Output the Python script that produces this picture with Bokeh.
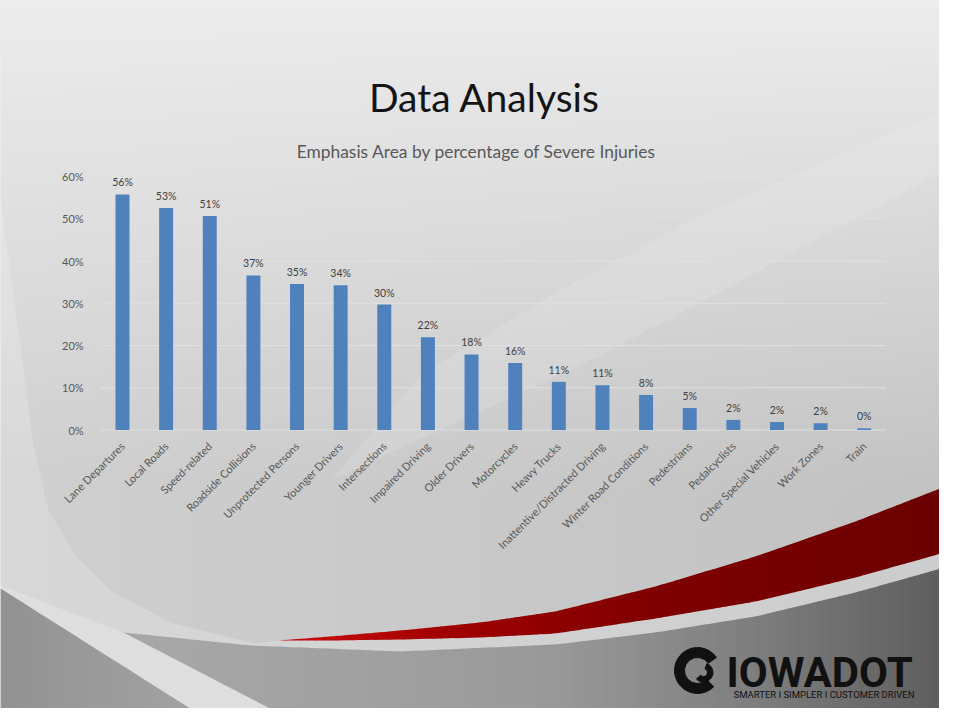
import numpy as np
from math import pi
from bokeh.plotting import figure
from bokeh.models import Range1d, LinearAxis, FixedTicker
from bokeh.core.properties import value
from bokeh.embed import file_html
from bokeh.resources import INLINE

# ---------------- data ----------------
categories = ["Lane Departures", "Local Roads", "Speed-related", "Roadside Collisions",
              "Unprotected Persons", "Younger Drivers", "Intersections", "Impaired Driving",
              "Older Drivers", "Motorcycles", "Heavy Trucks", "Inattentive/Distracted Driving",
              "Winter Road Conditions", "Pedestrians", "Pedalcyclists", "Other Special Vehicles",
              "Work Zones", "Train"]
severe_pct = [55.8, 52.6, 50.7, 36.6, 34.6, 34.3, 29.7, 22.0, 17.9, 15.9,
              11.4, 10.6, 8.3, 5.2, 2.4, 1.9, 1.6, 0.4]
pct_labels = ["56%", "53%", "51%", "37%", "35%", "34%", "30%", "22%", "18%", "16%",
              "11%", "11%", "8%", "5%", "2%", "2%", "2%", "0%"]
y_ticks = [0, 10, 20, 30, 40, 50, 60]
y_tick_labels = ["0%", "10%", "20%", "30%", "40%", "50%", "60%"]

title_text = "Data Analysis"
subtitle_text = "Emphasis Area by percentage of Severe Injuries"
logo_text = "IOWADOT"
tagline_text = "SMARTER I SIMPLER I CUSTOMER DRIVEN"

FONT = "Lato"
W, H = 939, 708

p = figure(width=W, height=H,
           x_range=Range1d(-2.796, 18.725), y_range=Range1d(-65.96, 101.73),
           x_axis_type=None, y_axis_type=None,
           toolbar_location=None, output_backend="svg", min_border=0,
           outline_line_color=None, background_fill_color="#dedede",
           border_fill_color="#dedede")
p.extra_x_ranges = {"px": Range1d(0, W), "u": Range1d(0, 1)}
p.extra_y_ranges = {"px": Range1d(H, 0), "u": Range1d(0, 1)}

# ---------------- background ----------------
nx, ny = 313, 236
xc = (np.arange(nx) + 0.5) * W / nx
yc = H - (np.arange(ny) + 0.5) * H / ny
X, Y = np.meshgrid(xc, yc)
v = 236 - 0.06 * (np.minimum(Y, 480) - 8) - 0.014 * X * np.minimum(Y, 500) / 500
v = np.clip(v, 0, 255).astype(np.uint8)
img = np.empty((ny, nx), dtype=np.uint32)
view = img.view(dtype=np.uint8).reshape((ny, nx, 4))
view[..., 0] = v
view[..., 1] = v
view[..., 2] = v
view[..., 3] = 255
p.image_rgba(image=[img], x=0, y=0, dw=1, dh=1, x_range_name="u", y_range_name="u")

PX = dict(x_range_name="px", y_range_name="px")

# soft light sweep through the chart (tapered)
sweep_lo = [(330, 480), (450, 425), (600, 355), (750, 275), (880, 205), (940, 172)]
sweep_hi = [(940, 112), (850, 150), (700, 215), (550, 295), (420, 375)]
sw = sweep_lo + sweep_hi
p.patch([q[0] for q in sw], [q[1] for q in sw], fill_color="white", fill_alpha=0.12,
        line_color=None, **PX)

red_top_x = [278, 330, 400, 480, 555, 655, 755, 855, 955]
red_top_y = [640, 636, 630, 622, 611, 586, 556, 521, 482]
red_bot_x = [278, 330, 400, 480, 555, 655, 755, 855, 955]
red_bot_y = [640, 640, 639, 637, 633, 618, 601, 577, 549]

# light swoosh on the left / under the red band
arc = [(0, 200), (18, 330), (32, 440), (48, 510), (75, 555), (110, 590), (170, 622), (253, 643)]
wx = [q[0] for q in arc] + red_top_x + [955, 0]
wy = [q[1] for q in arc] + red_top_y + [724, 724]
p.patch(wx, wy, fill_color="white", fill_alpha=0.18, line_color=None, **PX)


def slice_patches(top_x, top_y, bot_x, bot_y, x0, x1, n, stop_x, stop_rgb):
    edges = np.linspace(x0, x1, n + 1)
    xs, ys, cols = [], [], []
    for a, b in zip(edges[:-1], edges[1:]):
        b2 = min(b + 0.8, x1)
        ta, tb = np.interp([a, b2], top_x, top_y)
        ba, bb = np.interp([a, b2], bot_x, bot_y)
        xs.append([a, b2, b2, a])
        ys.append([ta, tb, bb, ba])
        m = (a + b) / 2
        rgb = [int(np.interp(m, stop_x, [c[k] for c in stop_rgb])) for k in range(3)]
        cols.append("#%02x%02x%02x" % tuple(rgb))
    return xs, ys, cols


# dark lower-right region
dk_top_x = [123, 250, 400, 555, 655, 755, 855, 955]
dk_top_y = [632, 645, 651, 644, 632, 616, 592, 564]
xs, ys, cols = slice_patches(dk_top_x, dk_top_y, [0, 960], [724, 724], 123, 940, 80,
                             [123, 400, 555, 755, 955],
                             [(168, 168, 168), (160, 160, 160), (153, 153, 153),
                              (126, 126, 126), (92, 92, 92)])
p.patches(xs, ys, fill_color=cols, line_color=None, **PX)

# white diagonal band
band = [(123, 632), (300, 724), (0, 724), (0, 585)]
p.patch([q[0] for q in band], [q[1] for q in band], fill_color="#dedede",
        line_color=None, **PX)

# dark lower-left corner
xs, ys, cols = slice_patches([0, 215], [588, 724], [0, 960], [724, 724], 0, 215, 20,
                             [0, 215], [(146, 146, 146), (165, 165, 165)])
p.patches(xs, ys, fill_color=cols, line_color=None, **PX)

# red swoosh
xs, ys, cols = slice_patches(red_top_x, red_top_y, red_bot_x, red_bot_y, 278, 940, 90,
                             [278, 450, 650, 955],
                             [(205, 15, 15), (160, 0, 0), (128, 0, 0), (106, 0, 0)])
p.patches(xs, ys, fill_color=cols, line_color=None, **PX)

# ---------------- chart ----------------
idx = list(range(len(categories)))
p.segment(x0=-0.5, x1=len(categories) - 0.5, y0=y_ticks, y1=y_ticks,
          line_color="#e0e0e0", line_width=1)
p.vbar(x=idx, top=severe_pct, width=0.32, fill_color="#4F81BD", line_color=None)
p.text(x=idx, y=severe_pct, text=pct_labels, text_align="center",
       text_baseline="alphabetic", y_offset=-12, text_font=value(FONT),
       text_font_size="10.5px", text_color="#404040")

xaxis = LinearAxis(fixed_location=0, ticker=FixedTicker(ticks=idx),
                   major_label_overrides={i: c for i, c in enumerate(categories)},
                   major_label_orientation=pi / 4,
                   axis_line_color=None, major_tick_line_color=None,
                   minor_tick_line_color=None,
                   major_label_text_font=FONT, major_label_text_font_size="11px",
                   major_label_text_color="#595959", major_label_standoff=8)
p.add_layout(xaxis, "below")

yaxis = LinearAxis(fixed_location=-0.5, ticker=FixedTicker(ticks=y_ticks),
                   major_label_overrides={t: l for t, l in zip(y_ticks, y_tick_labels)},
                   axis_line_color=None, major_tick_line_color=None,
                   minor_tick_line_color=None,
                   major_label_text_font=FONT, major_label_text_font_size="11px",
                   major_label_text_color="#595959", major_label_standoff=11)
p.add_layout(yaxis, "left")

# ---------------- titles ----------------
p.text(x=[484], y=[96], text=[title_text], text_align="center",
       text_baseline="alphabetic", text_font=value(FONT), text_font_size="39px",
       text_color="#141414", **PX)
p.text(x=[476], y=[151], text=[subtitle_text], text_align="center",
       text_baseline="alphabetic", text_font=value(FONT), text_font_size="17.4px",
       text_color="#595959", **PX)

# ---------------- logo (nudged up/left to stay inside the page) ----------------
p.annular_wedge(x=[697], y=[670], inner_radius=13, outer_radius=23,
                start_angle=0.6, end_angle=5.5, color="#111111", **PX)
p.annular_wedge(x=[703], y=[672], inner_radius=4, outer_radius=9.5,
                start_angle=-2.4, end_angle=1.2, color="#111111", **PX)
p.text(x=[726], y=[672], text=[logo_text], text_align="left", text_baseline="alphabetic",
       text_font=value("Roboto"), text_font_style="bold", text_font_size="42px",
       text_color="#111111", **PX)
p.text(x=[914], y=[694], text=[tagline_text], text_align="right",
       text_baseline="alphabetic", text_font=value("Roboto"),
       text_font_size="9.5px", text_color="#111111", **PX)

open("out.html", "w").write(file_html(p, INLINE))
